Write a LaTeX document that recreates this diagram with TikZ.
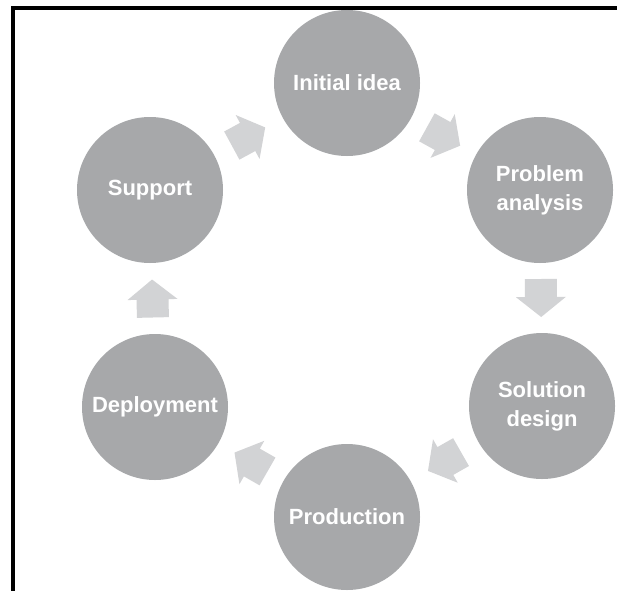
\documentclass[tikz,border=0pt]{standalone}
\usepackage{fontspec}
\setmainfont{Liberation Sans}
\usetikzlibrary{calc}
\definecolor{circgray}{HTML}{A7A8AA}
\definecolor{arrgray}{HTML}{D2D3D5}
\tikzset{
  x=1pt, y=-1pt,
  stage/.style={circle, fill=circgray, minimum size=146pt, inner sep=0pt,
    text=white, align=center, font=\fontsize{22pt}{29pt}\selectfont\bfseries},
  pics/blockarrow/.style={code={
    \fill[arrgray] (-19,-16) -- (-1,-16) -- (-1,-25) -- (19,0) -- (-1,25) -- (-1,16) -- (-19,16) -- cycle;}}
}
\newcommand\flowarrow[2]{%
  \path let \p1=($(#2)-(#1)$), \n1={atan2(\y1,\x1)} in
    ($(#1)!0.5!(#2)$) pic[rotate=\n1] {blockarrow};}
\begin{document}
\begin{tikzpicture}
\useasboundingbox (0,0) rectangle (617,591);
\fill[white] (0,0) rectangle (617,591);
\draw[line width=4pt] (617,8) -- (12.5,8) -- (12.5,591);
\node[stage] (ini) at (347,83) {Initial idea};
\node[stage] (pro) at (540,190) {Problem\\analysis};
\node[stage] (sol) at (542,406) {Solution\\design};
\node[stage] (prd) at (347,517) {Production};
\node[stage] (dep) at (155,407) {Deployment};
\node[stage] (sup) at (150,190) {Support};
\flowarrow{sup}{ini}
\flowarrow{ini}{pro}
\flowarrow{pro}{sol}
\flowarrow{sol}{prd}
\flowarrow{prd}{dep}
\flowarrow{dep}{sup}
\end{tikzpicture}
\end{document}
